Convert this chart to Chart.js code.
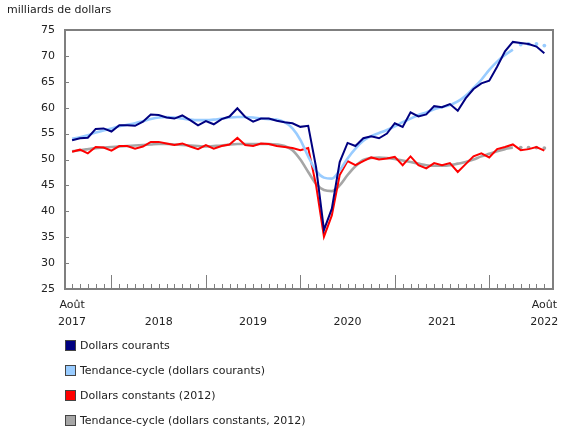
<!DOCTYPE html>
<html>
<head>
<meta charset="utf-8">
<script src="https://cdn.jsdelivr.net/npm/chart.js@4"></script>
<style>
  html, body { margin: 0; padding: 0; background: #fff; }
  #wrap { position: relative; width: 580px; height: 435px; }
</style>
</head>
<body>
<div id="wrap"><canvas id="chart" width="580" height="435"></canvas></div>
<script>
// donnees mensuelles, aout 2017 a aout 2022
const yearLabels = ['2017', '2018', '2019', '2020', '2021', '2022']
const yearPos = [0, 11, 23, 35, 47, 60]
const janIdx = [5, 17, 29, 41, 53]
const yTicks = [25, 30, 35, 40, 45, 50, 55, 60, 65, 70, 75]

const courants = [
  53.7, 54.1, 54.2, 55.9, 56.0, 55.4, 56.6, 56.6, 56.5, 57.3,
  58.7, 58.6, 58.1, 57.9, 58.5, 57.6, 56.6, 57.4, 56.8, 57.8,
  58.3, 59.9, 58.2, 57.3, 57.9, 57.9, 57.5, 57.2, 57.0, 56.3,
  56.5, 48.5, 36.4, 40.5, 49.5, 53.2, 52.6, 54.1, 54.5, 54.1,
  55.0, 57.0, 56.3, 59.1, 58.3, 58.7, 60.3, 60.1, 60.7, 59.4,
  61.8, 63.6, 64.7, 65.2, 67.9, 70.9, 72.7, 72.5, 72.3, 71.8,
  70.5
]
const tendCourants = [
  54.0, 54.3, 54.7, 55.2, 55.6, 56.0, 56.4, 56.7, 57.0, 57.4,
  57.8, 58.1, 58.2, 58.1, 57.9, 57.7, 57.6, 57.6, 57.7, 57.9,
  58.1, 58.2, 58.2, 58.1, 57.9, 57.8, 57.7, 57.2, 56.0, 53.8,
  50.6, 47.8, 46.5, 46.3, 47.9, 50.2, 52.1, 53.6, 54.5, 55.1,
  55.7, 56.4, 57.2, 57.9, 58.6, 59.1, 59.7, 60.1, 60.5, 61.2,
  62.3, 63.8, 65.4, 67.3, 68.9, 70.2, 71.2, 72.2, 72.3, 72.3,
  72.0
]
const constants = [
  51.5, 51.9, 51.2, 52.4, 52.3, 51.7, 52.6, 52.6, 52.1, 52.5,
  53.4, 53.4, 53.1, 52.8, 53.1, 52.5, 52.0, 52.8, 52.1, 52.6,
  52.9, 54.2, 52.8, 52.6, 53.1, 53.0, 52.6, 52.4, 52.2, 51.8,
  52.2, 45.0, 35.1, 39.2, 47.0, 49.7, 48.9, 49.7, 50.4, 50.0,
  50.2, 50.5, 48.9, 50.6, 48.9, 48.3, 49.3, 48.9, 49.3, 47.6,
  49.1, 50.6, 51.2, 50.4, 52.0, 52.4, 52.9, 51.8, 52.0, 52.4,
  51.7
]
const tendConstants = [
  51.6, 51.8, 52.0, 52.2, 52.3, 52.4, 52.5, 52.6, 52.7, 52.8,
  52.9, 53.0, 53.0, 52.9, 52.8, 52.7, 52.6, 52.5, 52.6, 52.7,
  52.9, 53.0, 53.0, 53.0, 53.0, 53.0, 52.9, 52.6, 51.8, 50.0,
  47.6, 45.3, 44.1, 43.9, 45.0, 47.0, 48.7, 49.9, 50.3, 50.4,
  50.3, 50.1, 49.8, 49.5, 49.2, 48.9, 48.8, 48.8, 48.9, 49.2,
  49.5, 50.0, 50.6, 51.1, 51.6, 52.0, 52.3, 52.3, 52.3, 52.3,
  52.2
]
const provisoire = 56 // les points apres celui-ci sont en pointille

const FONT = 'DejaVu Sans'
const AXIS = '#7f7f7f'

function toPoints(arr){
  return arr.map((v, i) => ({x: i, y: v}))
}

function lineSet(label, arr, color, width, trend){
  const ds = {
    label,
    data: toPoints(arr),
    borderColor: color,
    backgroundColor: color,
    borderWidth: width,
    pointRadius: 0,
    tension: trend ? 0.4 : 0,
    cubicInterpolationMode: trend ? 'monotone' : 'default',
    fill: false
  }
  if(trend){
    ds.segment = {borderColor: c => c.p0DataIndex >= provisoire ? 'rgba(0,0,0,0)' : undefined}
    ds.pointRadius = c => c.dataIndex > provisoire ? 1.9 : 0
    ds.pointBorderWidth = 0
  }
  return ds
}

//! dessine axes, cadre, graduations, annees et legende
const decor = {
  id: 'decor',
  afterDatasetsDraw(chart){
    const {ctx, chartArea: a, scales} = chart
    const x = scales.x
    ctx.save()
    ctx.strokeStyle = AXIS
    ctx.lineWidth = 2
    ctx.beginPath()
    ctx.moveTo(a.left, a.top); ctx.lineTo(a.right, a.top)
    ctx.lineTo(a.right, a.bottom); ctx.lineTo(a.left, a.bottom); ctx.closePath()
    ctx.stroke()

    ctx.lineWidth = 1
    ctx.beginPath()
    yTicks.forEach(t => {
      const py = Math.round(scales.y.getPixelForValue(t)) + 0.5
      ctx.moveTo(a.left, py); ctx.lineTo(a.left + 4, py)
    })
    for(let i = 0; i < courants.length; i++){
      const px = Math.round(x.getPixelForValue(i)) + 0.5
      const len = janIdx.includes(i) ? 14 : 5
      ctx.moveTo(px, a.bottom); ctx.lineTo(px, a.bottom - len)
    }
    ctx.stroke()

    ctx.fillStyle = '#222'
    ctx.font = `11px "${FONT}"`
    ctx.textAlign = 'center'
    ctx.textBaseline = 'middle'
    yearLabels.forEach((y, k) => {
      const px = x.getPixelForValue(yearPos[k])
      ctx.fillText(y, px, a.bottom + 33)
      if(k === 0 || k === yearLabels.length - 1) ctx.fillText('Août', px, a.bottom + 16)
    })

    ctx.textAlign = 'left'
    ctx.fillText('milliards de dollars', 7, 10)

    chart.data.datasets.forEach((ds, k) => {
      const top = 340 + k * 25
      ctx.fillStyle = ds.borderColor
      ctx.fillRect(65, top, 11, 11)
      ctx.strokeStyle = '#444'
      ctx.strokeRect(65.5, top + 0.5, 10, 10)
      ctx.fillStyle = '#222'
      ctx.fillText(ds.label, 80, top + 6)
    })
    ctx.restore()
  }
}

const chartCtx = document.querySelector('#chart').getContext('2d')
const myChart = new Chart(chartCtx, {
  type: 'line',
  data: {
    datasets: [
      lineSet('Dollars courants', courants, '#000080', 2, false),
      lineSet('Tendance-cycle (dollars courants)', tendCourants, '#99ccff', 2.6, true),
      lineSet('Dollars constants (2012)', constants, '#ff0000', 2, false),
      lineSet('Tendance-cycle (dollars constants, 2012)', tendConstants, '#a6a6a6', 2.6, true)
    ]
  },
  options: {
    responsive: false,
    animation: false,
    layout: {padding: {left: 0, right: 27, top: 30, bottom: 146}},
    plugins: {legend: {display: false}, tooltip: {enabled: false}},
    scales: {
      x: {type: 'linear', min: -0.9, max: 61.1, display: false},
      y: {
        min: 25, max: 75,
        afterFit: s => { s.width = 65 },
        afterBuildTicks: s => { s.ticks = yTicks.map(v => ({value: v})) },
        grid: {display: false, drawTicks: false},
        border: {display: false},
        ticks: {padding: 10, color: '#222', font: {family: FONT, size: 11}}
      }
    }
  },
  plugins: [decor]
})
</script>
</body>
</html>
